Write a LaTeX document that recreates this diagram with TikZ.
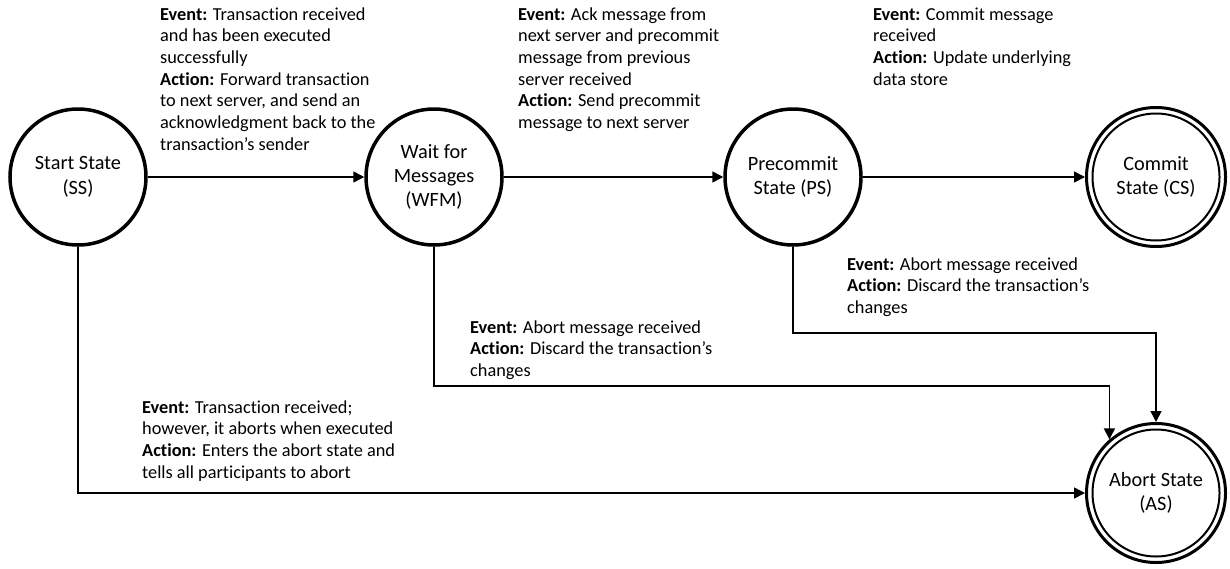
\documentclass[tikz,border=0pt]{standalone}
\usepackage{fontspec}
\setmainfont[Ligatures={NoCommon}]{Carlito}
\usetikzlibrary{arrows.meta}
\newcommand{\lblfont}{\fontsize{18.3}{21.7}\selectfont}
\newcommand{\stfont}{\fontsize{20.3}{24.4}\selectfont}
\tikzset{
  state/.style={circle, draw, line width=3.5pt, minimum size=136pt, inner sep=0pt, align=center, font=\stfont},
  final/.style={circle, draw, line width=3pt, minimum size=139pt, inner sep=0pt, align=center, font=\stfont},
  innerring/.style={line width=2pt},
  arr/.style={line width=1.5pt, -{Triangle[length=11pt,width=11pt]}},
  lbl/.style={anchor=north west, inner sep=0pt, align=left, font=\lblfont}
}
\begin{document}
\begin{tikzpicture}[x=1pt,y=-1pt]
\useasboundingbox (0,0) rectangle (1230,568);
% states
\node[state] (SS) at (78,177) {Start State\\(SS)};
\node[state] (WFM) at (434,177) {Wait for\\Messages\\(WFM)};
\node[state] (PS) at (793,177) {Precommit\\State (PS)};
\node[final] (CS) at (1156,177) {Commit\\State (CS)};
\node[final] (AS) at (1156,493) {Abort State\\(AS)};
\draw[innerring] (CS.center) circle[radius=63.5];
\draw[innerring] (AS.center) circle[radius=63.5];
% connectors
\draw[arr] (SS.east) -- (WFM.west);
\draw[arr] (WFM.east) -- (PS.west);
\draw[arr] (PS.east) -- (CS.west);
\draw[arr] (SS.south) |- (AS.west);
\coordinate (wfmturn) at (434,386);
\draw[arr] (WFM.south) -- (wfmturn) -| (AS.131.5);
\coordinate (psturn) at (793,333);
\draw[arr] (PS.south) -- (psturn) -| (AS.north);
% labels
\node[lbl] (l1) at (160,4.8) {\strut\textbf{Event:} Transaction received\\and has been executed\\successfully\\\textbf{Action:} Forward transaction\\to next server, and send an\\acknowledgment back to the\\transaction’s sender};
\node[lbl] (l2) at (518,4.8) {\strut\textbf{Event:} Ack message from\\next server and precommit\\message from previous\\server received\\\textbf{Action:} Send precommit\\message to next server};
\node[lbl] (l3) at (873,4.8) {\strut\textbf{Event:} Commit message\\received\\\textbf{Action:} Update underlying\\data store};
\node[lbl] (l4) at (847,254.8) {\strut\textbf{Event:} Abort message received\\\textbf{Action:} Discard the transaction’s\\changes};
\node[lbl] (l5) at (470,317.8) {\strut\textbf{Event:} Abort message received\\\textbf{Action:} Discard the transaction’s\\changes};
\node[lbl] (l6) at (142,397.8) {\strut\textbf{Event:} Transaction received;\\however, it aborts when executed\\\textbf{Action:} Enters the abort state and\\tells all participants to abort};
\end{tikzpicture}
\end{document}
